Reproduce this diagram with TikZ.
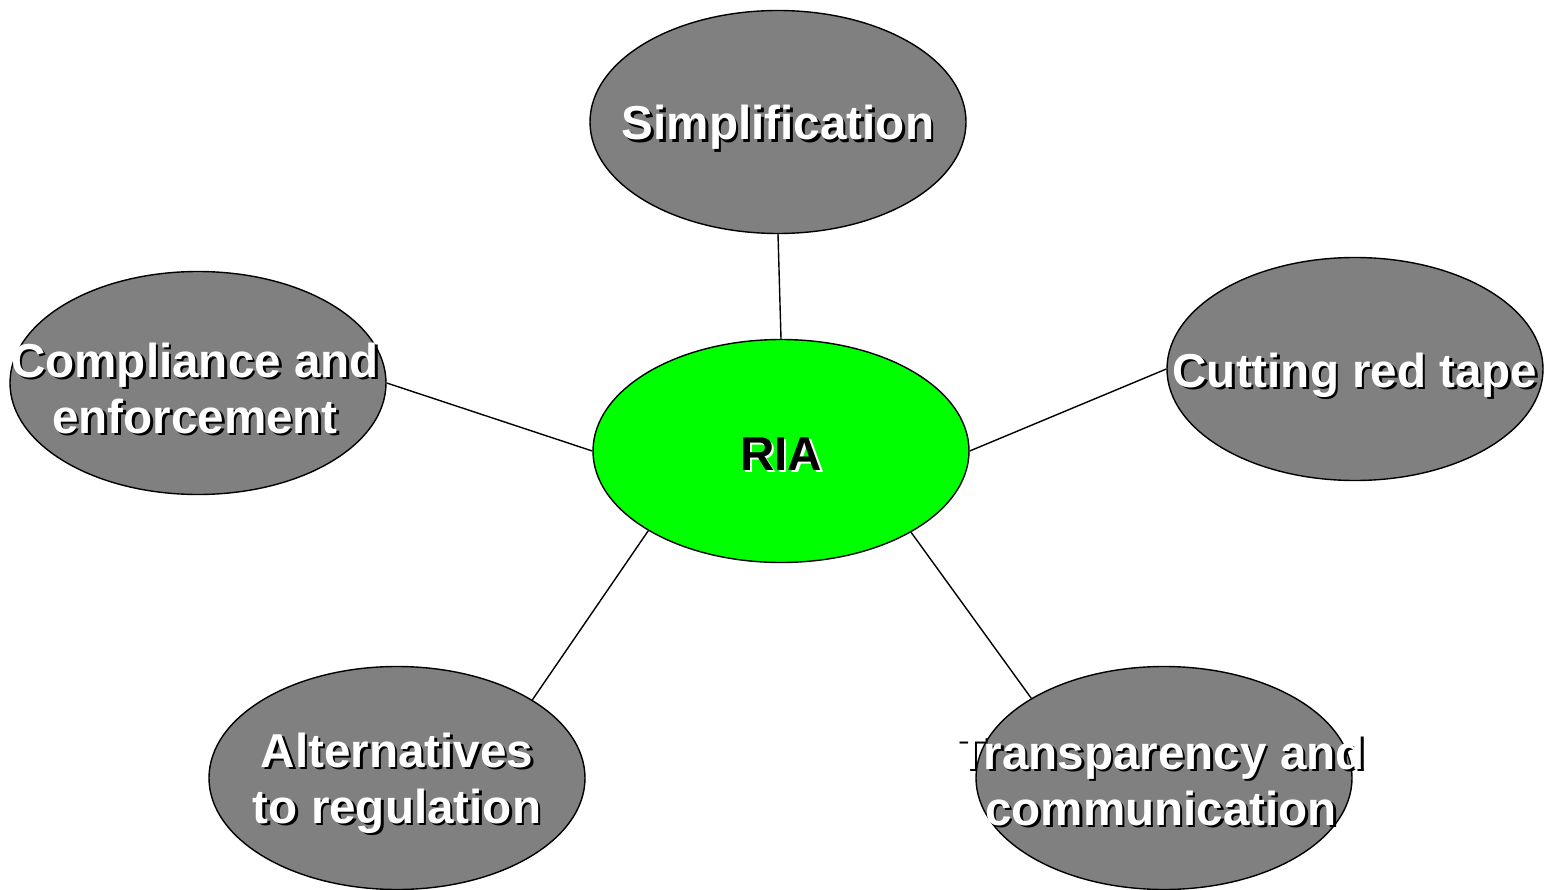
\documentclass[tikz,border=0pt]{standalone}
\usepackage{fontspec}
\setmainfont{Liberation Sans}
\usetikzlibrary{shapes.geometric}
\definecolor{bubblegray}{HTML}{808080}
\definecolor{riagreen}{HTML}{00FF00}
% label with a drop shadow: #1 name, #2 position (baseline of last line), #3 text, #4 text colour, #5 shadow colour
\newcommand\shadowlabel[5]{%
  \node[lbl, text=#5, xshift=2.5pt, yshift=-2.5pt] (#1-sh) at #2 {#3};
  \node[lbl, text=#4] (#1) at #2 {#3};}
\begin{document}
\begin{tikzpicture}[x=1pt,y=-1pt,
  bubble/.style={ellipse, draw=black, line width=1.4pt, fill=bubblegray,
    inner sep=0pt, minimum width=376pt, minimum height=223pt},
  hub/.style={bubble, fill=riagreen},
  lbl/.style={font=\fontsize{47.6}{56}\selectfont\bfseries, align=center,
    inner sep=0pt, anchor=base},
  link/.style={draw=black, line width=1.4pt}]
\useasboundingbox (0,0) rectangle (1549,890);

% bubbles
\node[hub]    (ria)  at (781,451) {};
\node[bubble] (simp) at (778,122) {};
\node[bubble] (comp) at (198,383) {};
\node[bubble] (cut)  at (1355,369) {};
\node[bubble] (alt)  at (397,778) {};
\node[bubble] (trans) at (1164,778) {};

% connectors
\draw[link] (ria.90) -- (simp.270);
\draw[link] (ria.180) -- (comp.0);
\draw[link] (ria.0) -- (cut.180);
\draw[link] (ria.211.3) -- (alt.30.4);
\draw[link] (ria.328.7) -- (trans.149.4);

% labels
\shadowlabel{riat}{(781,470)}{RIA}{black}{white}
\shadowlabel{simpt}{(778,140)}{Simplification}{white}{black}
\shadowlabel{cutt}{(1355,387)}{Cutting red tape}{white}{black}
\shadowlabel{compt}{(195,433)}{Compliance and\\enforcement}{white}{black}
\shadowlabel{altt}{(397,823)}{Alternatives\\to regulation}{white}{black}
\shadowlabel{transt}{(1161,825)}{Transparency and\\communication}{white}{black}
\end{tikzpicture}
\end{document}
